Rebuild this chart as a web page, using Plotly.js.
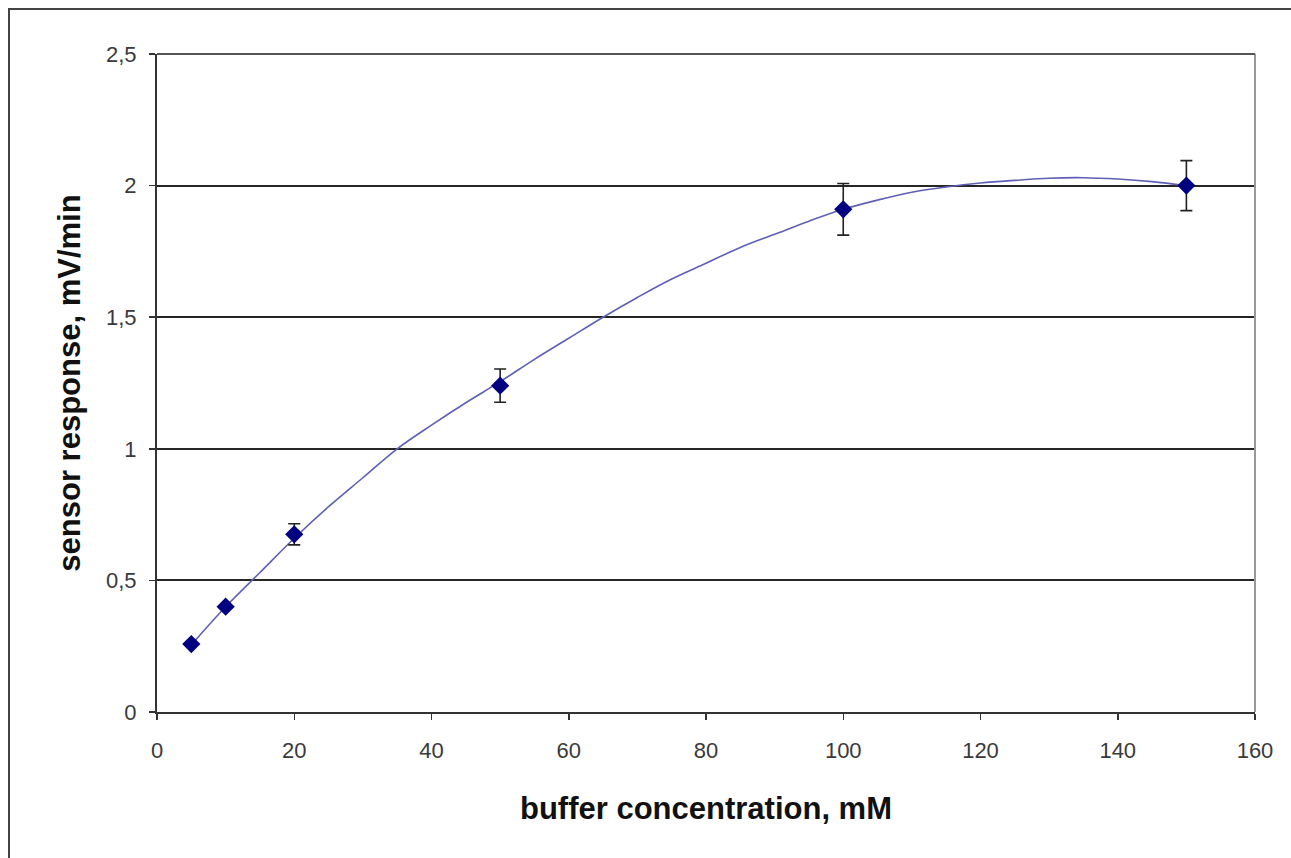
<!DOCTYPE html>
<html>
<head>
<meta charset="utf-8">
<script src="https://cdn.plot.ly/plotly-3.0.1.min.js"></script>
<style>
  html, body { margin: 0; padding: 0; background: #ffffff; overflow: hidden; }
  #wrap { position: relative; width: 1291px; height: 858px; overflow: hidden; }
  #chart { position: absolute; left: 0; top: 0; width: 1291px; height: 858px; }
  #frame { position: absolute; left: 8px; top: 8px; width: 1400px; height: 1000px;
           border-top: 2.5px solid #444444; border-left: 2.5px solid #444444;
           pointer-events: none; box-sizing: border-box; }
</style>
</head>
<body>
<div id="wrap">
  <div id="chart"></div>
  <div id="frame"></div>
</div>
<script>
// Measured data points (buffer concentration, mM) and sensor response (mV/min)
const concentration = [5, 10, 20, 50, 100, 150];
const response = [0.258, 0.40, 0.675, 1.24, 1.91, 2.0];
const responseError = [0, 0, 0.04, 0.063, 0.098, 0.095];

// Trend curve
const trendX = [5, 10, 15, 20, 25, 30, 35, 40, 45, 50, 55, 60, 65, 70, 75, 80, 85, 90, 95, 100, 105, 110, 115, 120, 125, 130, 135, 140, 145, 150];
const trendY = [0.255, 0.40, 0.53, 0.66, 0.78, 0.89, 1.00, 1.09, 1.175, 1.255, 1.34, 1.42, 1.50, 1.575, 1.645, 1.705, 1.765, 1.815, 1.865, 1.91, 1.945, 1.975, 1.995, 2.01, 2.02, 2.028, 2.03, 2.025, 2.015, 2.0];

const xTickVals = [0, 20, 40, 60, 80, 100, 120, 140, 160];
const yTickVals = [0, 0.5, 1, 1.5, 2, 2.5];

const xTitle = 'buffer concentration, mM';
const yTitle = 'sensor response, mV/min';

const traces = [
  {
    x: trendX, y: trendY,
    type: 'scatter', mode: 'lines',
    line: { color: '#5f5fb5', width: 1.6, shape: 'spline', smoothing: 1 },
    hoverinfo: 'skip', showlegend: false
  },
  {
    x: concentration, y: response,
    type: 'scatter', mode: 'markers',
    marker: { symbol: 'diamond', size: 14, color: '#000080', line: { width: 0 } },
    error_y: { type: 'data', array: responseError, visible: true, color: '#222222', thickness: 1.6, width: 6 },
    showlegend: false
  }
];

const tickFont = { family: 'Liberation Sans, Arial, sans-serif', size: 22, color: '#3a3a3a' };
const titleFont = { family: 'Liberation Sans, Arial, sans-serif', size: 31, color: '#111111', weight: 'bold' };

const layout = {
  width: 1291, height: 858,
  margin: { l: 157, r: 36, t: 54, b: 146 },
  paper_bgcolor: 'rgba(0,0,0,0)', plot_bgcolor: '#ffffff',
  separators: ', ',
  showlegend: false,
  xaxis: {
    range: [0, 160], tickvals: xTickVals,
    showgrid: false, zeroline: false,
    showline: true, linecolor: '#333333', linewidth: 2,
    ticks: 'outside', ticklen: 6, tickwidth: 1.5, tickcolor: '#333333',
    ticklabelstandoff: 12,
    tickfont: tickFont,
    title: { text: '<b>' + xTitle + '</b>', font: titleFont, standoff: 35 },
    automargin: false
  },
  yaxis: {
    range: [0, 2.5], tickvals: yTickVals,
    showgrid: true, gridcolor: '#262626', gridwidth: 2,
    zeroline: false,
    showline: true, linecolor: '#333333', linewidth: 2,
    ticks: 'outside', ticklen: 6, tickwidth: 1.5, tickcolor: '#333333',
    ticklabelstandoff: 8,
    tickfont: tickFont,
    title: { text: '<b>' + yTitle + '</b>', font: titleFont, standoff: 16 },
    automargin: false
  },
  shapes: [
    // plot area border on right side and top
    { type: 'line', xref: 'paper', yref: 'paper', x0: 1, x1: 1, y0: 0, y1: 1,
      line: { color: '#9a9a9a', width: 2 } },
    { type: 'line', xref: 'paper', yref: 'paper', x0: 0, x1: 1, y0: 1, y1: 1,
      line: { color: '#555555', width: 2 } }
  ]
};

Plotly.newPlot('chart', traces, layout, { displayModeBar: false, staticPlot: true });
</script>
</body>
</html>
